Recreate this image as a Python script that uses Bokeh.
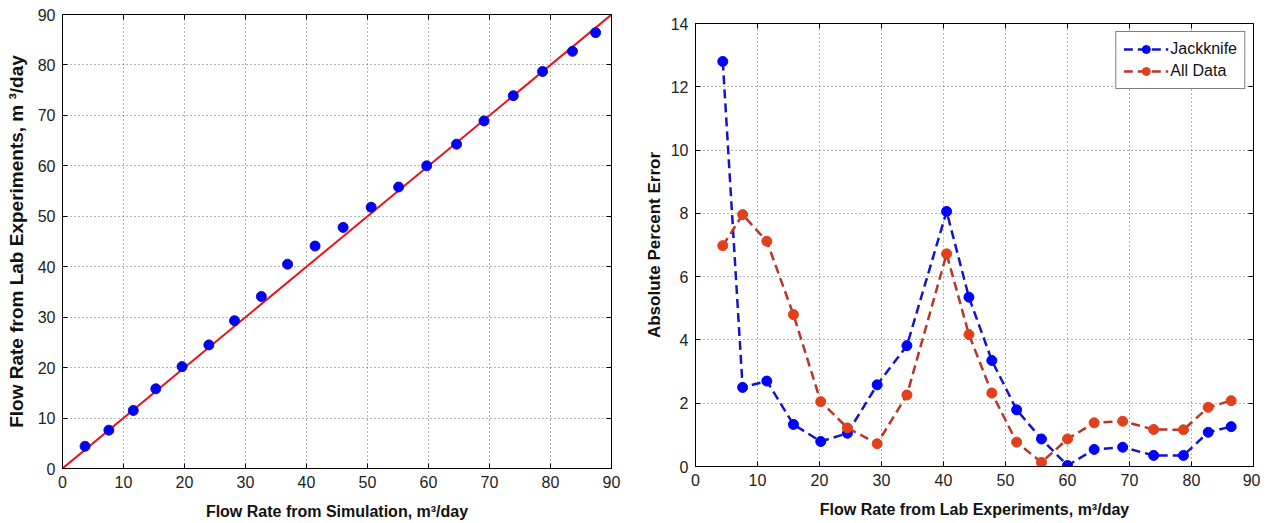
from bokeh.plotting import figure
from bokeh.models import Range1d, LinearAxis, Legend, LegendItem, FixedTicker
from bokeh.embed import file_html
from bokeh.resources import INLINE

# ---- data ----
sim_flow = [3.7, 7.6, 11.6, 15.3, 19.6, 24.0, 28.2, 32.6, 36.9, 41.4,
            46.0, 50.6, 55.1, 59.7, 64.6, 69.1, 73.9, 78.7, 83.6, 87.4]
lab_flow = [4.4, 7.6, 11.5, 15.8, 20.2, 24.5, 29.3, 34.1, 40.5, 44.1,
            47.8, 51.8, 55.8, 60.0, 64.3, 68.9, 73.9, 78.7, 82.7, 86.4]
fit_x = [0, 90]
fit_y = [0, 90]
jackknife = [12.8, 2.5, 2.7, 1.33, 0.79, 1.05, 2.58, 3.82, 8.06, 5.35,
             3.35, 1.79, 0.87, 0.03, 0.54, 0.61, 0.35, 0.35, 1.08, 1.26]
all_data = [6.98, 7.96, 7.12, 4.80, 2.05, 1.22, 0.72, 2.26, 6.72, 4.17,
            2.32, 0.77, 0.13, 0.87, 1.38, 1.43, 1.17, 1.16, 1.87, 2.08]
x_ticks = [0, 10, 20, 30, 40, 50, 60, 70, 80, 90]
left_y_ticks = [0, 10, 20, 30, 40, 50, 60, 70, 80, 90]
right_y_ticks = [0, 2, 4, 6, 8, 10, 12, 14]

TICK_FONT = "Liberation Sans"
BLUE = "#0000FF"
BLUE_LINE = "#1414C8"
RED = "#E0401A"
RED_LINE = "#B8352A"


def style(p, xt, yt, xlabel, ylabel, ylabel_size, ylabel_standoff):
    xa = p.below[0]
    ya = p.left[0]
    xa.ticker = FixedTicker(ticks=xt)
    ya.ticker = FixedTicker(ticks=yt)
    xa.axis_label = xlabel
    ya.axis_label = ylabel
    for ax in [xa, ya]:
        ax.major_label_text_font = TICK_FONT
        ax.major_label_text_font_size = "16px"
        ax.major_label_text_color = "#222222"
        ax.axis_label_text_font = TICK_FONT
        ax.axis_label_text_font_size = "16px"
        ax.axis_label_text_font_style = "bold"
        ax.axis_label_text_color = "#111111"
        ax.major_tick_in = 5
        ax.major_tick_out = 0
        ax.minor_tick_line_color = None
        ax.axis_line_color = "black"
        ax.major_tick_line_color = "black"
        ax.major_label_standoff = 7
    ya.axis_label_text_font_size = ylabel_size
    xa.axis_label_standoff = 12
    ya.axis_label_standoff = ylabel_standoff
    p.grid.grid_line_color = "black"
    p.grid.grid_line_alpha = 0.6
    p.grid.grid_line_dash = "1 3"
    p.outline_line_color = "black"
    p.outline_line_alpha = 1
    p.background_fill_color = "white"
    p.border_fill_color = "white"
    # inward ticks on top and right, without labels
    for loc, tk in (("right", yt), ("above", xt)):
        ax = LinearAxis(ticker=FixedTicker(ticks=tk),
                        major_label_overrides={t: "" for t in tk},
                        major_label_standoff=0,
                        major_tick_in=5, major_tick_out=0,
                        minor_tick_line_color=None,
                        axis_line_color=None,
                        major_tick_line_color="black")
        p.add_layout(ax, loc)


# ---- left ----
p1 = figure(frame_width=549, frame_height=454,
            x_range=Range1d(0, 90), y_range=Range1d(0, 90),
            output_backend="svg", toolbar_location=None,
            min_border_left=62, min_border_right=22,
            min_border_top=14, min_border_bottom=54)
style(p1, x_ticks, left_y_ticks,
      "Flow Rate from Simulation, m³/day",
      "Flow Rate from Lab Experiments, m ³/day", "19px", 8)
p1.line(fit_x, fit_y, line_color="#E8141B", line_width=2)
p1.scatter(sim_flow, lab_flow, marker="circle", size=10,
           fill_color=BLUE, line_color="#1010C0", line_width=1)

# ---- right ----
p2 = figure(frame_width=558, frame_height=443,
            x_range=Range1d(0, 90), y_range=Range1d(0, 14),
            output_backend="svg", toolbar_location=None,
            min_border_left=62, min_border_right=7,
            min_border_top=23, min_border_bottom=56)
style(p2, x_ticks, right_y_ticks,
      "Flow Rate from Lab Experiments, m³/day",
      "Absolute Percent Error", "17px", 4)

lj = p2.line(lab_flow, jackknife, line_color=BLUE_LINE, line_width=2.5, line_dash="9 5")
sj = p2.scatter(lab_flow, jackknife, marker="circle", size=10,
                fill_color=BLUE, line_color=BLUE)
la = p2.line(lab_flow, all_data, line_color=RED_LINE, line_width=2.5, line_dash="9 5")
sa = p2.scatter(lab_flow, all_data, marker="circle", size=10,
                fill_color=RED, line_color=RED)

legend = Legend(items=[LegendItem(label="Jackknife", renderers=[lj, sj]),
                       LegendItem(label="All Data", renderers=[la, sa])],
                location="top_right")
legend.label_text_font = TICK_FONT
legend.label_text_font_size = "16px"
legend.label_text_color = "#111111"
legend.border_line_color = "black"
legend.border_line_width = 1
legend.background_fill_alpha = 1
legend.margin = 8
legend.padding = 7
legend.spacing = 2
legend.glyph_width = 45
legend.label_standoff = 2
p2.add_layout(legend, "center")

# two independent roots side by side (no frame alignment between them)
TEMPLATE = """
{% block contents %}
<div style="display: flex; flex-direction: row; align-items: flex-start;">
{{ super() }}
</div>
{% endblock %}
"""

open("out.html", "w").write(file_html([p1, p2], INLINE, template=TEMPLATE))
